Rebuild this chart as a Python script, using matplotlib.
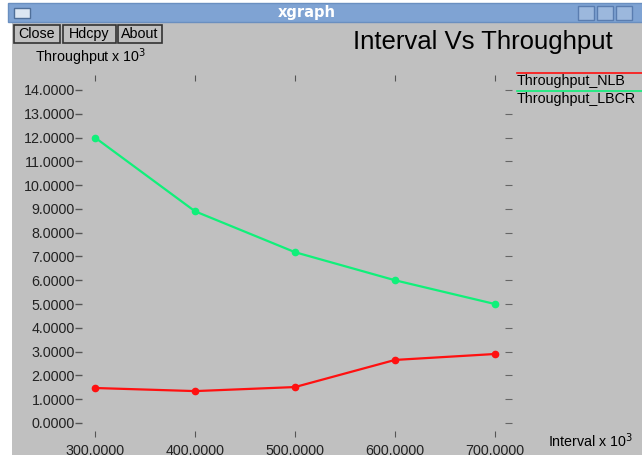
import matplotlib.pyplot as plt
from matplotlib.patches import Rectangle
from matplotlib.ticker import FuncFormatter

# data
interval = [300, 400, 500, 600, 700]
thr_nlb = [1.47, 1.34, 1.51, 2.65, 2.90]
thr_lbcr = [12.0, 8.9, 7.18, 6.0, 5.0]
y_ticks = list(range(0, 15))
x_ticks = [300, 400, 500, 600, 700]

W, H = 642, 461
FS = 10.3
plt.rcParams['font.family'] = ['Liberation Sans', 'DejaVu Sans']

fig = plt.figure(figsize=(W / 100, H / 100), dpi=100)
fig.patch.set_facecolor('white')


def px(x, y, w, h):
    # pixel box (top-left origin) -> figure fraction
    return (x / W, 1 - (y + h) / H, w / W, h / H)


def fx(x):
    return x / W


def fy(y):
    return 1 - y / H


def box(x, y, w, h, **kw):
    x0, y0, w0, h0 = px(x, y, w, h)
    fig.patches.append(Rectangle((x0, y0), w0, h0, transform=fig.transFigure, **kw))


# window body and title bar
box(12, 22, 640, 433, facecolor='#c0c0c0', edgecolor='none', zorder=0)
box(8, 3, 640, 19, facecolor='#7fa3d3', edgecolor='#6a8fc0', zorder=0)
box(14, 8, 16, 10, facecolor='#dce6f2', edgecolor='#4f6f99', zorder=1)
for bx in [578, 597, 616]:
    box(bx, 6, 16, 14, facecolor='#9cb8dd', edgecolor='#5a7db0', zorder=1)
fig.text(fx(307), fy(13), 'xgraph', color='white', fontsize=10.5,
         fontweight='bold', ha='center', va='center', family='DejaVu Sans')

# buttons
for label, bx, bw in [('Close', 14, 46), ('Hdcpy', 63, 53), ('About', 118, 44)]:
    box(bx, 25, bw, 18, facecolor='#c0c0c0', edgecolor='#333333',
        linewidth=1.2, zorder=1)
    fig.text(fx(bx + bw / 2), fy(34), label, fontsize=FS, ha='center', va='center')

fig.text(fx(483), fy(42), 'Interval Vs Throughput', fontsize=18.5,
         ha='center', va='center')
fig.text(fx(35), fy(57), r'Throughput x 10$^{3}$', fontsize=FS,
         ha='left', va='center')
fig.text(fx(548), fy(441), r'Interval x 10$^{3}$', fontsize=FS,
         ha='left', va='center')

# plot area
ax = fig.add_axes(px(82, 75, 430, 362))
ax.set_zorder(3)
ax.patch.set_alpha(0)
for s in ax.spines.values():
    s.set_visible(False)

ax.plot(interval, thr_nlb, color='#ff1010', linewidth=1.6, marker='o',
        markersize=4.5, label='Throughput_NLB')
ax.plot(interval, thr_lbcr, color='#10f07a', linewidth=1.6, marker='o',
        markersize=4.5, label='Throughput_LBCR')

ax.set_xlim(287, 717)
ax.set_ylim(-0.59, 14.63)
ax.set_xticks(x_ticks)
ax.set_yticks(y_ticks)
ax.xaxis.set_major_formatter(FuncFormatter(lambda v, p: f'{v:.4f}'))
ax.yaxis.set_major_formatter(FuncFormatter(lambda v, p: f'{v:.4f}'))
ax.tick_params(axis='x', top=True, bottom=True, direction='in', length=4,
               color='#555555', labelsize=FS, labelcolor='#222222', pad=5)
ax.tick_params(axis='y', left=True, right=False, direction='out', length=5,
               width=1.0, color='#555555', labelsize=FS, labelcolor='#222222',
               pad=0)
ax.yaxis.get_major_ticks()[0].tick1line.set_color('white')

# small tick dashes on the right edge
axr = ax.twinx()
axr.set_ylim(ax.get_ylim())
axr.set_yticks(y_ticks)
axr.set_yticklabels([])
for s in axr.spines.values():
    s.set_visible(False)
axr.tick_params(axis='y', right=True, direction='in', length=5,
                color='#666666')
axr.yaxis.get_major_ticks()[0].tick2line.set_color('white')

# legend drawn like xgraph: colored line above each name
for i, (name, col) in enumerate([('Throughput_NLB', '#ff1010'),
                                 ('Throughput_LBCR', '#10f07a')]):
    ly = 73 + i * 18
    fig.add_artist(plt.Line2D([fx(517), fx(642)], [fy(ly), fy(ly)],
                              transform=fig.transFigure, color=col, linewidth=1.2,
                              zorder=4))
    fig.text(fx(517), fy(ly + 8), name, fontsize=FS, ha='left', va='center')

fig.savefig('out.png', dpi=100, facecolor=fig.get_facecolor())
